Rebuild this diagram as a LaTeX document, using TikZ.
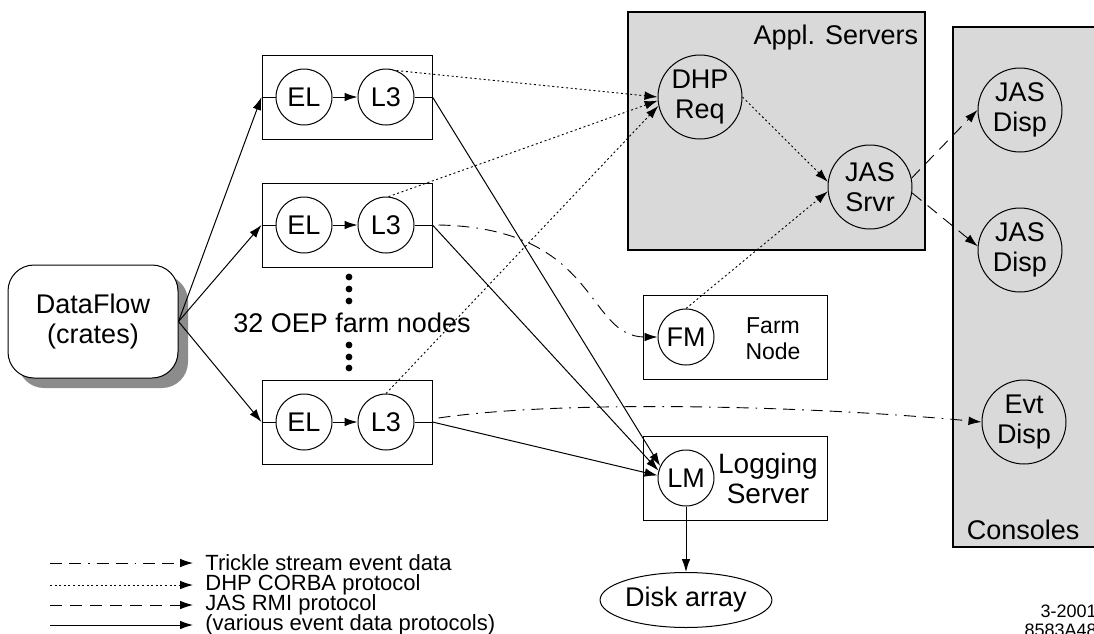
\documentclass[tikz,border=0pt]{standalone}
\usepackage{fontspec}
\setmainfont{Liberation Sans}
\usetikzlibrary{arrows.meta, positioning, shapes.geometric, shadows}
\definecolor{srvgray}{RGB}{217,217,217}
\definecolor{shadowgray}{RGB}{140,140,140}

\begin{document}
\begin{tikzpicture}[x=0.5pt, y=-0.5pt,
  font=\fontsize{13.5}{15}\selectfont,
  tip/.style={-{Latex[length=6.5pt,width=4.3pt]}},
  flow/.style={tip, line width=0.5pt},
  trickle/.style={tip, line width=0.45pt, dash pattern=on 6pt off 3.5pt on 6pt off 3.5pt on 0.8pt off 3.5pt},
  corba/.style={tip, line width=0.45pt, dash pattern=on 1pt off 1.3pt},
  rmi/.style={tip, line width=0.45pt, dash pattern=on 6pt off 4pt},
  farmbox/.style={draw, line width=0.5pt, minimum width=85pt, minimum height=42pt, inner sep=0pt},
  proc/.style={draw, circle, line width=0.5pt, minimum size=28pt, inner sep=0pt},
  bigproc/.style={draw, circle, line width=0.5pt, minimum size=42pt, inner sep=0pt, align=center},
  grpbox/.style={draw, line width=0.6pt, fill=srvgray, inner sep=0pt},
  legtext/.style={anchor=west, inner sep=0pt, font=\fontsize{11}{12}\selectfont}
]
\clip (0,0) rectangle (1094,633);

% data source
\node[draw, rounded corners=13pt, minimum width=85pt, minimum height=56.5pt, fill=white,
  line width=0.5pt, align=center,
  drop shadow={shadow xshift=5pt, shadow yshift=-5pt, fill=shadowgray, opacity=1}]
  (dataflow) at (93,321.5) {DataFlow\\(crates)};

% farm nodes
\foreach \n/\y in {a/97, b/225, c/422}{
  \node[farmbox] (box\n) at (347,\y) {};
  \node[proc] (el\n) at (304,\y) {EL};
  \node[proc] (lt\n) at (386,\y) {L3};
  \draw[line width=0.5pt] (box\n.west) -- (el\n.west);
  \draw[flow] (el\n) -- (lt\n);
  \draw[line width=0.5pt] (lt\n.east) -- (box\n.east);
  \draw[flow] (dataflow.east) -- (box\n.west);
}
\foreach \y in {277,289,301,345,357,368}
  \fill (349,\y) circle (1.7pt);
\node (farmcount) at (352,323) {32 OEP farm nodes};

% server groups
\node[grpbox, minimum width=148.5pt, minimum height=119pt] (applsrv) at (776.5,131) {};
\node[anchor=north east, inner sep=0pt] (appllabel) at ([xshift=-3.5pt, yshift=-6.5pt]applsrv.north east) {Appl. Servers};
\node[grpbox, minimum width=80pt, minimum height=260pt] (consoles) at (1033,287) {};
\node[anchor=south west, inner sep=0pt] (conslabel) at ([xshift=7pt, yshift=3.5pt]consoles.south west) {Consoles};

\node[bigproc] (dhpreq) at (700,97) {DHP\\Req};
\node[bigproc] (jassrvr) at (870,187) {JAS\\Srvr};
\node[bigproc] (jasdispa) at (1020,110) {JAS\\Disp};
\node[bigproc] (jasdispb) at (1020,250) {JAS\\Disp};
\node[bigproc] (evtdisp) at (1024,422) {Evt\\Disp};

\node[farmbox, minimum width=92pt] (farmnode) at (735,337) {};
\node[proc] (fm) at (686,337) {FM};
\node[align=center, font=\fontsize{11.5}{13}\selectfont] (farmlabel) at (773,339) {Farm\\Node};

\node[farmbox, minimum width=92pt] (logsrv) at (735,478) {};
\node[proc] (lm) at (686,478) {LM};
\node[align=center, font=\fontsize{14}{15}\selectfont] (loglabel) at (768,478) {Logging\\Server};

\node[draw, ellipse, minimum width=70pt, minimum height=27.5pt, inner sep=0pt, line width=0.5pt] (disk) at (686,600) {Disk array};

% connectors
\draw[corba] (lta.68) -- (dhpreq.180);
\draw[corba] (ltb.85) -- (dhpreq.185);
\draw[corba] (ltc.north) -- (dhpreq.192);
\draw[corba] (dhpreq.east) -- (jassrvr.173);
\draw[corba] (fm.north) -- (jassrvr.186);
\draw[rmi] (jassrvr.12) -- (jasdispa.west);
\draw[rmi] (jassrvr.-8) -- (jasdispb.175);
\draw[trickle] ([xshift=3pt]boxb.east) .. controls (600,228) and (585,337) .. (fm.west);
\draw[trickle] ([xshift=3pt, yshift=2pt]boxc.east) .. controls (560,400) and (800,405) .. (evtdisp.west);
\draw[flow] (boxa.east) -- (lm.155);
\draw[flow] (boxb.east) -- (lm.165);
\draw[flow] (boxc.east) -- (lm.175);
\draw[flow] (lm.south) -- (disk.north);

% legend
\foreach \s/\t/\y [count=\i] in {trickle/Trickle stream event data/563,
    corba/DHP CORBA protocol/585, rmi/JAS RMI protocol/605,
    flow/(various event data protocols)/625}{
  \node[legtext] (leg\i) at (205,\y) {\t};
  \coordinate (legs\i) at (50,\y);
  \draw[\s] (legs\i) -- ([xshift=-6pt]leg\i.west);
}

\node[anchor=north east, align=right, inner sep=0pt, font=\fontsize{9}{9.5}\selectfont] (stamp) at (1097,605) {3-2001\\8583A48};
\end{tikzpicture}
\end{document}
